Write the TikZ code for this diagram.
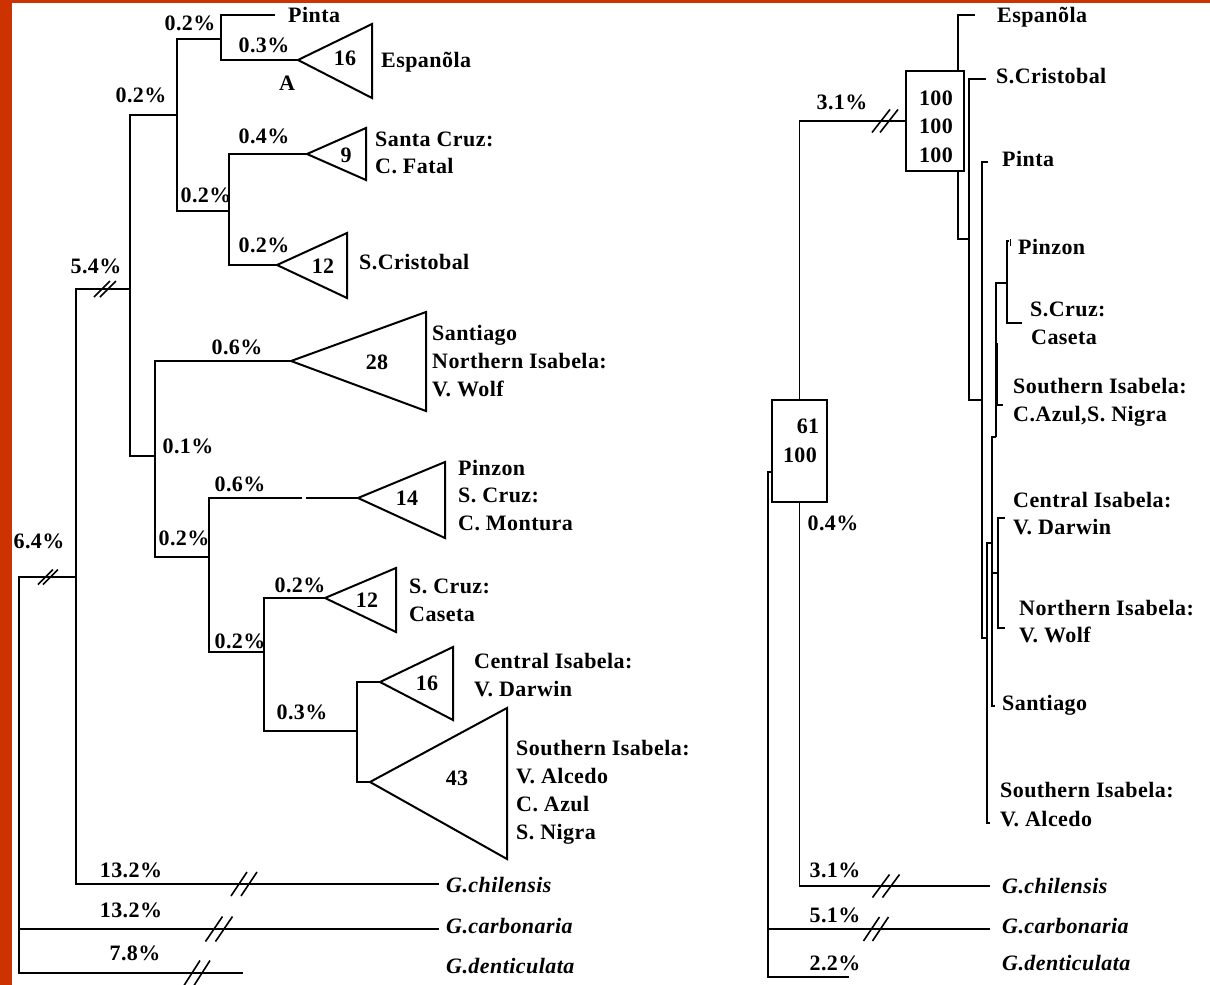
\documentclass[tikz,border=0pt]{standalone}
\usepackage{fontspec}
\setmainfont{Liberation Serif}[LetterSpace=2]
\definecolor{framecol}{RGB}{204,51,0}
\newcommand\brkmark[5]{%
  \draw[brkline] ({#1-#3/2-#5/2},{#2+#4/2}) -- ({#1+#3/2-#5/2},{#2-#4/2});
  \draw[brkline] ({#1-#3/2+#5/2},{#2+#4/2}) -- ({#1+#3/2+#5/2},{#2-#4/2});}
\begin{document}
\begin{tikzpicture}[x=1pt,y=-1pt,
  every node/.style={font=\fontsize{22}{26}\selectfont\bfseries, inner sep=0pt},
  lbl/.style={anchor=base west},
  num/.style={anchor=base},
  spc/.style={anchor=base west, font=\fontsize{22}{26}\selectfont\bfseries\itshape},
  brl/.style={line width=2pt},
  brr/.style={line width=1.7pt},
  tri/.style={line width=2pt, line join=miter},
  brkline/.style={line width=1.6pt},
  bx/.style={draw, line width=1.8pt}]
\useasboundingbox (0,0) rectangle (1210,985);
\fill[white] (0,0) rectangle (1210,985);
\fill[framecol] (0,0) rectangle (12,985);
\fill[framecol] (0,0) rectangle (1210,2.5);

% ---------------- left tree: coordinates ----------------
\coordinate (R0) at (19,929);
\coordinate (N64) at (76,577);
\coordinate (N54) at (130,289);
\coordinate (NA) at (177,115);
\coordinate (NT) at (221,39);
\coordinate (NB) at (229,211);
\coordinate (N01) at (155,456);
\coordinate (NC) at (209,557);
\coordinate (ND) at (264,652);
\coordinate (N03) at (357,731);
\coordinate (pintaEnd) at (275,15);
\coordinate (espTip) at (298,60);
\coordinate (fatTip) at (307,154);
\coordinate (criTip) at (277,265);
\coordinate (sanTip) at (291,361);
\coordinate (pzGapA) at (302,498);
\coordinate (pzGapB) at (306,498);
\coordinate (pzTip) at (358,498);
\coordinate (casTip) at (325,598);
\coordinate (darTip) at (380,682);
\coordinate (souTip) at (370,782);
\coordinate (chilEnd) at (439,884);
\coordinate (carbEnd) at (439,929);
\coordinate (dentEnd) at (243,973);

\draw[brl] (R0) |- (N64);
\draw[brl] (R0) |- (carbEnd);
\draw[brl] (R0) |- (dentEnd);
\draw[brl] (N64) |- (N54);
\draw[brl] (N64) |- (chilEnd);
\draw[brl] (N54) |- (NA);
\draw[brl] (N54) |- (N01);
\draw[brl] (NA) |- (NT);
\draw[brl] (NA) |- (NB);
\draw[brl] (NT) |- (pintaEnd);
\draw[brl] (NT) |- (espTip);
\draw[brl] (NB) |- (fatTip);
\draw[brl] (NB) |- (criTip);
\draw[brl] (N01) |- (sanTip);
\draw[brl] (N01) |- (NC);
\draw[brl] (NC) |- (pzGapA);
\draw[brl] (pzGapB) -- (pzTip);
\draw[brl] (NC) |- (ND);
\draw[brl] (ND) |- (casTip);
\draw[brl] (ND) |- (N03);
\draw[brl] (N03) |- (darTip);
\draw[brl] (N03) |- (souTip);

% triangles
\draw[tri] (espTip) -- ++(74,-36) -- ++(0,74) -- cycle;
\draw[tri] (fatTip) -- ++(59,-26) -- ++(0,52) -- cycle;
\draw[tri] (criTip) -- ++(70,-32) -- ++(0,65) -- cycle;
\draw[tri] (sanTip) -- ++(135,-49) -- ++(0,99) -- cycle;
\draw[tri] (pzTip) -- ++(87,-36) -- ++(0,76) -- cycle;
\draw[tri] (casTip) -- ++(71,-30) -- ++(0,64) -- cycle;
\draw[tri] (darTip) -- ++(73,-35) -- ++(0,73) -- cycle;
\draw[tri] (souTip) -- ++(137,-74) -- ++(0,151) -- cycle;

% break marks
\brkmark{105}{289}{16}{16}{6}
\brkmark{48}{577}{15}{15}{5}
\brkmark{244}{884}{16}{24}{10}
\brkmark{219}{929}{17}{25}{10}
\brkmark{197}{973}{16}{25}{10}

% numbers in triangles
\node[num] (c1) at (345,65) {16};
\node[num] (c2) at (346,162) {9};
\node[num] (c3) at (323,273) {12};
\node[num] (c4) at (377,369) {28};
\node[num] (c5) at (407,505) {14};
\node[num] (c6) at (367,607) {12};
\node[num] (c7) at (427,690) {16};
\node[num] (c8) at (457,785) {43};

% branch lengths
\node[num] (p1) at (190,30) {0.2\%};
\node[num] (p2) at (264,52) {0.3\%};
\node[num] (pA) at (287,90) {A};
\node[num] (p3) at (141,102) {0.2\%};
\node[num] (p4) at (264,143) {0.4\%};
\node[num] (p5) at (206,202) {0.2\%};
\node[num] (p6) at (264,252) {0.2\%};
\node[num] (p7) at (96,273) {5.4\%};
\node[num] (p8) at (237,354) {0.6\%};
\node[num] (p9) at (188,453) {0.1\%};
\node[num] (p10) at (240,491) {0.6\%};
\node[num] (p11) at (184,545) {0.2\%};
\node[num] (p12) at (39,548) {6.4\%};
\node[num] (p13) at (300,592) {0.2\%};
\node[num] (p14) at (240,648) {0.2\%};
\node[num] (p15) at (302,719) {0.3\%};
\node[num] (p16) at (131,877) {13.2\%};
\node[num] (p17) at (131,917) {13.2\%};
\node[num] (p18) at (135,960) {7.8\%};

% taxon labels
\node[lbl] (l1) at (288,23) {Pinta};
\node[lbl] (l2) at (381,67) {Espanõla};
\node[lbl] (l3) at (375,146) {Santa Cruz:};
\node[lbl] (l4) at (375,173) {C. Fatal};
\node[lbl] (l5) at (359,269) {S.Cristobal};
\node[lbl] (l6) at (432,340) {Santiago};
\node[lbl] (l7) at (432,368) {Northern Isabela:};
\node[lbl] (l8) at (432,396) {V. Wolf};
\node[lbl] (l9) at (458,475) {Pinzon};
\node[lbl] (l10) at (458,502) {S. Cruz:};
\node[lbl] (l11) at (458,530) {C. Montura};
\node[lbl] (l12) at (409,593) {S. Cruz:};
\node[lbl] (l13) at (409,621) {Caseta};
\node[lbl] (l14) at (474,668) {Central Isabela:};
\node[lbl] (l15) at (474,696) {V. Darwin};
\node[lbl] (l16) at (516,755) {Southern Isabela:};
\node[lbl] (l17) at (516,783) {V. Alcedo};
\node[lbl] (l18) at (516,811) {C. Azul};
\node[lbl] (l19) at (516,839) {S. Nigra};
\node[spc] (l20) at (446,892) {G.chilensis};
\node[spc] (l21) at (446,933) {G.carbonaria};
\node[spc] (l22) at (446,973) {G.denticulata};

% ---------------- right tree ----------------
\node[bx, minimum width=58pt, minimum height=100pt] (box1) at (935,121) {};
\node[bx, minimum width=55pt, minimum height=102pt] (box2) at (799.5,451) {};
\coordinate (RR) at (768,929);
\coordinate (b2in) at (772,472);
\coordinate (dentEndR) at (849,977);
\coordinate (carbEndR) at (990,929);
\coordinate (chilEndR) at (990,886);
\coordinate (b1top) at (958,71);
\coordinate (b1bot) at (958,171);
\coordinate (espEndR) at (975,15);
\coordinate (NR1) at (969,239);
\coordinate (criEndR) at (986,79);
\coordinate (NR2) at (982,400);
\coordinate (pinEndR) at (988,162);
\coordinate (NR3) at (987,638);
\coordinate (alcEnd) at (990,823);
\coordinate (NR4) at (992,543);
\coordinate (sanEndR) at (995,706);
\coordinate (NR5) at (996,437);
\coordinate (azuEnd) at (1003,405);
\coordinate (NR6) at (1007,283);
\coordinate (pzEndR) at (1009,241);
\coordinate (casEndR) at (1022,323);
\coordinate (NR7) at (998,573);
\coordinate (darEnd) at (1005,518);
\coordinate (wolEnd) at (1005,628);
\coordinate (thkA) at (997.6,343);
\coordinate (thkB) at (997.6,405);
\coordinate (pzMkA) at (1010.5,239);
\coordinate (pzMkB) at (1010.5,246);

\draw[brr] (RR) |- (b2in);
\draw[brr] (RR) |- (dentEndR);
\draw[brr] (RR) |- (carbEndR);
\draw[brr] (box2.north) |- (box1.west);
\draw[brr] (box2.south) |- (chilEndR);
\draw[brr] (b1top) |- (espEndR);
\draw[brr] (b1bot) |- (NR1);
\draw[brr] (NR1) |- (criEndR);
\draw[brr] (NR1) |- (NR2);
\draw[brr] (NR2) |- (pinEndR);
\draw[brr] (NR2) |- (NR3);
\draw[brr] (NR3) |- (alcEnd);
\draw[brr] (NR3) |- (NR4);
\draw[brr] (NR4) |- (sanEndR);
\draw[brr] (NR4) |- (NR5);
\draw[brr] (NR5) |- (azuEnd);
\draw[brr] (NR5) |- (NR6);
\draw[brr] (NR6) |- (pzEndR);
\draw[brr] (NR6) |- (casEndR);
\draw[brr] (NR4) |- (NR7);
\draw[brr] (NR7) |- (darEnd);
\draw[brr] (NR7) |- (wolEnd);
\draw[brr] (thkA) -- (thkB);
\draw[line width=0.8pt] (pzMkA) -- (pzMkB);

\brkmark{885}{121}{18}{23}{8}
\brkmark{886}{886}{17}{23}{10}
\brkmark{876}{929}{16}{24}{9}

\node[num] (q1) at (842,109) {3.1\%};
\node[num] (q2) at (936,105) {100};
\node[num] (q3) at (936,133) {100};
\node[num] (q4) at (936,162) {100};
\node[num] (q5) at (808,433) {61};
\node[num] (q6) at (800,462) {100};
\node[num] (q7) at (833,530) {0.4\%};
\node[num] (q8) at (835,877) {3.1\%};
\node[num] (q9) at (835,922) {5.1\%};
\node[num] (q10) at (835,970) {2.2\%};

\node[lbl] (r1) at (997,23) {Espanõla};
\node[lbl] (r2) at (996,83) {S.Cristobal};
\node[lbl] (r3) at (1002,166) {Pinta};
\node[lbl] (r4) at (1018,254) {Pinzon};
\node[lbl] (r5) at (1030,316) {S.Cruz:};
\node[lbl] (r6) at (1031,344) {Caseta};
\node[lbl] (r7) at (1013,393) {Southern Isabela:};
\node[lbl] (r8) at (1013,421) {C.Azul,S. Nigra};
\node[lbl] (r9) at (1013,507) {Central Isabela:};
\node[lbl] (r10) at (1013,534) {V. Darwin};
\node[lbl] (r11) at (1019,615) {Northern Isabela:};
\node[lbl] (r12) at (1019,642) {V. Wolf};
\node[lbl] (r13) at (1002,710) {Santiago};
\node[lbl] (r14) at (1000,797) {Southern Isabela:};
\node[lbl] (r15) at (1000,826) {V. Alcedo};
\node[spc] (r16) at (1002,893) {G.chilensis};
\node[spc] (r17) at (1002,933) {G.carbonaria};
\node[spc] (r18) at (1002,970) {G.denticulata};
\end{tikzpicture}
\end{document}
